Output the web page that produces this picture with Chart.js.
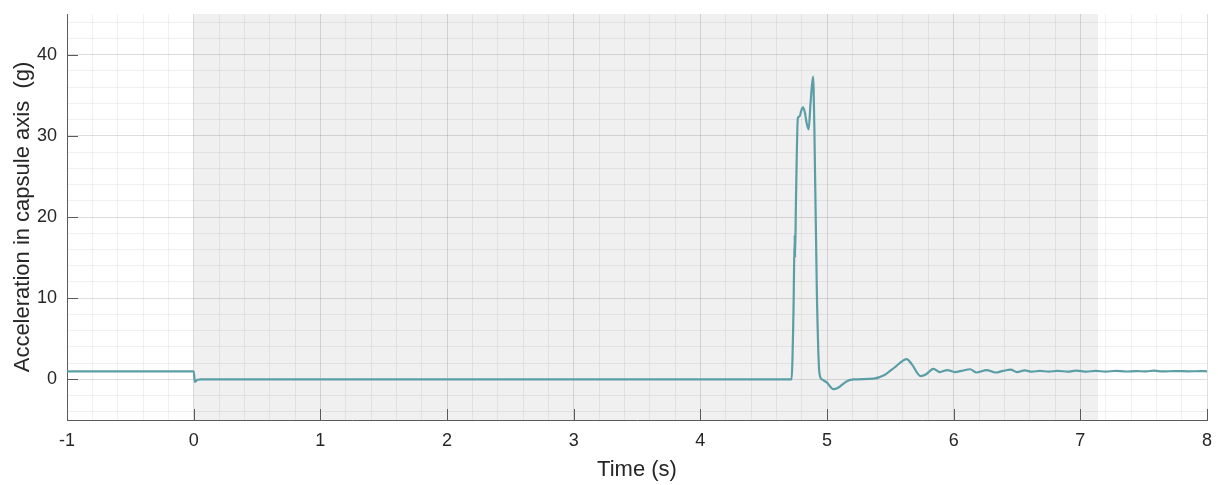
<!DOCTYPE html>
<html>
<head>
<meta charset="utf-8">
<script src="https://cdn.jsdelivr.net/npm/chart.js@4.4.1/dist/chart.umd.min.js"></script>
<style>
html,body{margin:0;padding:0;background:#fff;}
#wrap{width:1218px;height:485px;position:relative;}
</style>
</head>
<body>
<div id="wrap"><canvas id="c" width="1218" height="485"></canvas></div>
<script>
// ---- data ----
const timeS = [
 -1, -0.005, 0.0, 0.01, 0.03, 0.06,
 4.72, 4.735, 4.745, 4.748, 4.755, 4.77, 4.785, 4.795, 4.81, 4.825, 4.84, 4.855, 4.87, 4.89,
 4.9, 4.92, 4.94, 4.96, 5.0, 5.05, 5.08, 5.16, 5.21,
 5.37, 5.45, 5.54, 5.63, 5.67, 5.74, 5.78, 5.84, 5.89, 5.95, 6.01, 6.06, 6.13, 6.18,
 6.26, 6.33, 6.39, 6.45, 6.5, 6.56, 6.62, 6.68, 6.75, 6.82, 6.9, 6.97, 7.05, 7.12,
 7.2, 7.28, 7.36, 7.44, 7.52, 7.58, 7.65, 7.75, 7.85, 7.95, 8.0
];
const accelG = [
 1.0, 1.0, 1.0, -0.3, -0.05, 0,
 0, 8, 17.8, 15.0, 22, 32.2, 32.4, 33.0, 33.5, 32.9, 31.5, 30.8, 34, 37.3,
 31.2, 10.7, 0.8, 0, -0.4, -1.2, -1.1, -0.2, 0,
 0.1, 0.5, 1.55, 2.5, 1.85, 0.4, 0.6, 1.3, 0.9, 1.15, 0.9, 1.05, 1.25, 0.85,
 1.15, 0.85, 1.05, 1.2, 0.9, 1.1, 0.95, 1.05, 0.95, 1.05, 0.95, 1.08, 0.95, 1.05,
 0.95, 1.05, 0.97, 1.03, 0.98, 1.08, 0.98, 1.03, 0.99, 1.02, 1.0
];
const xTickLabels = ['-1','0','1','2','3','4','5','6','7','8'];
const yTickLabels = ['0','10','20','30','40'];
const shadedSpan = [0, 7.14];
const xRange = [-1, 8];
const yRange = [-5, 45];

const points = timeS.map((t, i) => ({x: t, y: accelG[i]}));
const FONT = "'Liberation Sans', Arial, Helvetica, sans-serif";

const shadePlugin = {
  id: 'shade',
  beforeDraw(chart) {
    const {ctx, chartArea, scales} = chart;
    const x0 = scales.x.getPixelForValue(shadedSpan[0]);
    const x1 = scales.x.getPixelForValue(shadedSpan[1]);
    ctx.save();
    ctx.fillStyle = '#f0f0f0';
    ctx.fillRect(x0, chartArea.top, x1 - x0, chartArea.bottom - chartArea.top);
    ctx.restore();
  }
};

const tickPlugin = {
  id: 'inTicks',
  afterDatasetsDraw(chart) {
    const {ctx, chartArea, scales} = chart;
    ctx.save();
    ctx.strokeStyle = '#5a5a5a';
    ctx.lineWidth = 1;
    ctx.beginPath();
    xTickLabels.forEach(l => {
      const px = Math.round(scales.x.getPixelForValue(Number(l))) + 0.5;
      ctx.moveTo(px, chartArea.bottom);
      ctx.lineTo(px, chartArea.bottom - 11);
    });
    yTickLabels.forEach(l => {
      const py = Math.round(scales.y.getPixelForValue(Number(l))) + 0.5;
      ctx.moveTo(chartArea.left, py);
      ctx.lineTo(chartArea.left + 11, py);
    });
    ctx.stroke();
    ctx.restore();
  }
};

function buildTicks(min, max, step) {
  const out = [];
  const n = Math.round((max - min) / step);
  for (let i = 0; i <= n; i++) out.push({value: Math.round((min + i * step) * 1000) / 1000});
  return out;
}

new Chart(document.getElementById('c'), {
  type: 'scatter',
  data: {
    datasets: [{
      data: points,
      showLine: true,
      borderColor: '#5b9ea5',
      borderWidth: 2.2,
      pointRadius: 0,
      cubicInterpolationMode: 'monotone',
      fill: false
    }]
  },
  options: {
    responsive: false,
    animation: false,
    devicePixelRatio: 1,
    layout: {padding: {top: 14, right: 11, left: 0, bottom: 0}},
    plugins: {legend: {display: false}, tooltip: {enabled: false}},
    scales: {
      x: {
        type: 'linear',
        min: xRange[0], max: xRange[1],
        afterBuildTicks(s) { s.ticks = buildTicks(xRange[0], xRange[1], 0.2); },
        afterFit(s) { s.height = 65; s.paddingLeft = 0; s.paddingRight = 0; },
        ticks: {
          autoSkip: false, maxRotation: 0, padding: 10,
          color: '#262626',
          font: {family: FONT, size: 18},
          callback(v) {
            const r = Math.round(v * 1000) / 1000;
            return xTickLabels.includes(String(r)) ? String(r) : '';
          }
        },
        grid: {
          drawTicks: false,
          color(c) {
            const v = c.tick ? c.tick.value : 0;
            return Math.abs(v - Math.round(v)) < 1e-6 ? 'rgba(0,0,0,0.13)' : 'rgba(0,0,0,0.06)';
          }
        },
        border: {display: true, color: '#5a5a5a', width: 1},
        title: {display: true, text: 'Time (s)', color: '#262626', font: {family: FONT, size: 22}, padding: {top: 0, bottom: 2}}
      },
      y: {
        type: 'linear',
        min: yRange[0], max: yRange[1],
        afterBuildTicks(s) { s.ticks = buildTicks(-4, 44, 2); },
        afterFit(s) { s.width = 67; s.paddingTop = 0; s.paddingBottom = 0; },
        ticks: {
          autoSkip: false, padding: 10,
          color: '#262626',
          font: {family: FONT, size: 18},
          callback(v) {
            const r = Math.round(v);
            return yTickLabels.includes(String(r)) ? String(r) : '';
          }
        },
        grid: {
          drawTicks: false,
          color(c) {
            const v = c.tick ? c.tick.value : 0;
            return Math.abs(v % 10) < 1e-6 ? 'rgba(0,0,0,0.13)' : 'rgba(0,0,0,0.06)';
          }
        },
        border: {display: true, color: '#5a5a5a', width: 1},
        title: {display: true, text: 'Acceleration in capsule axis  (g)', color: '#262626', font: {family: FONT, size: 22}, padding: {top: 10, bottom: 0}}
      }
    }
  },
  plugins: [shadePlugin, tickPlugin]
});
</script>
</body>
</html>
